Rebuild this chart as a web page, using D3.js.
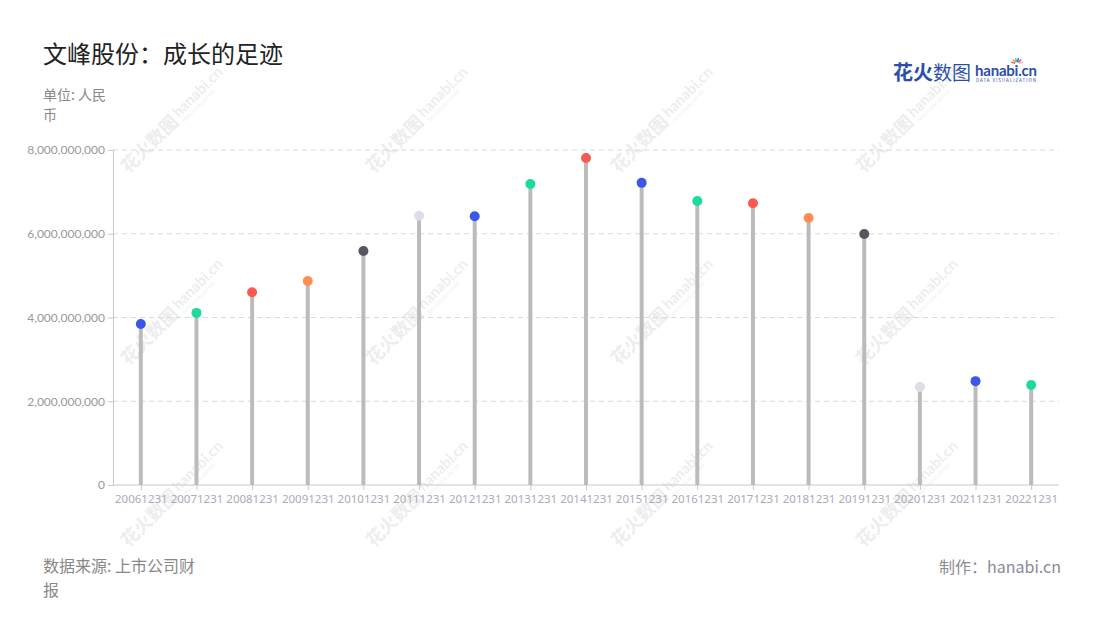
<!DOCTYPE html>
<html><head><meta charset="utf-8">
<script src="https://cdn.jsdelivr.net/npm/d3@7"></script>
<style>
body{margin:0;background:#fff;}
svg{font-family:"Noto Sans CJK SC","Noto Sans",sans-serif;}
</style></head>
<body><svg id="c" width="1100" height="620"></svg>
<script>
const categories = ["20061231","20071231","20081231","20091231","20101231","20111231","20121231","20131231","20141231","20151231","20161231","20171231","20181231","20191231","20201231","20211231","20221231"];
const values = [3.845e9,4.11e9,4.605e9,4.87e9,5.59e9,6.43e9,6.42e9,7.19e9,7.81e9,7.215e9,6.78e9,6.73e9,6.375e9,5.995e9,2.34e9,2.48e9,2.39e9];
const dotColors = ["#3a57e8","#1bdc9c","#f85a50","#ff8d54","#56565f","#dcdfe8","#3a57e8","#1bdc9c","#f85a50","#3a57e8","#1bdc9c","#f85a50","#ff8d54","#56565f","#dcdfe8","#3a57e8","#1bdc9c"];
const yTicks = [0,2e9,4e9,6e9,8e9];

const svg = d3.select("#c");
const M = {l:113, r:1059, t:150, b:485};
const x = d3.scalePoint().domain(categories).range([M.l, M.r]).padding(0.5);
const y = d3.scaleLinear().domain([0, 8e9]).range([M.b, M.t]);

// watermarks (behind)
const wmX = [178, 423, 668, 913], wmY = [116, 308, 490];
wmX.forEach(wx => wmY.forEach(wy => {
  const g = svg.append("g").attr("transform", `translate(${wx},${wy}) rotate(-45)`).attr("opacity", 0.09);
  g.append("text").attr("x", -4).attr("y", 6).attr("text-anchor", "end")
    .attr("font-size", 18).attr("font-weight", "bold").attr("fill", "#444").text("花火数图");
  g.append("text").attr("x", -1).attr("y", 2).attr("font-size", 15).attr("font-weight", "bold")
    .style("font-family", "Lato, sans-serif").attr("fill", "#444").text("hanabi.cn");
  g.append("text").attr("x", 0).attr("y", 9).attr("font-size", 4.5).attr("fill", "#444").text("DATA VISUALIZATION");
}));

// grid
svg.append("g").selectAll("line").data(yTicks.filter(d=>d>0)).join("line")
  .attr("x1", M.l).attr("x2", M.r).attr("y1", d=>y(d)).attr("y2", d=>y(d))
  .attr("stroke", "#d9d9d9").attr("stroke-dasharray", "5,4");

// y axis
const ya = svg.append("g").attr("transform", `translate(${M.l},0)`)
  .call(d3.axisLeft(y).tickValues(yTicks).tickSize(5).tickPadding(3).tickFormat(d3.format(",")));
ya.select(".domain").attr("stroke", "#c8c8c8");
ya.selectAll(".tick line").attr("stroke", "#c8c8c8");
ya.selectAll("text").attr("fill", "#999").style("font-family", "Lato, 'Noto Sans', sans-serif").style("font-size", "12px");

// x axis
const xa = svg.append("g").attr("transform", `translate(0,${M.b})`)
  .call(d3.axisBottom(x).tickSize(5).tickPadding(5));
xa.select(".domain").attr("stroke", "#c8c8c8").attr("d", `M${M.l},0H${M.r}`);
xa.selectAll(".tick line").attr("stroke", "#c8c8c8");
xa.selectAll("text").attr("fill", "#a9abb8").style("font-family", "'Noto Sans', sans-serif").style("font-size", "11.5px");

// stems
svg.append("g").selectAll("line").data(categories).join("line")
  .attr("x1", d=>x(d)).attr("x2", d=>x(d))
  .attr("y1", y(0)).attr("y2", (d,i)=>y(values[i]))
  .attr("stroke", "#bbbbbb").attr("stroke-width", 4);

// dots
svg.append("g").selectAll("circle").data(categories).join("circle")
  .attr("cx", d=>x(d)).attr("cy", (d,i)=>y(values[i])).attr("r", 5)
  .attr("fill", (d,i)=>dotColors[i]);

// title & labels
svg.append("text").attr("x", 43).attr("y", 63).attr("font-size", 24).attr("fill", "#222").text("文峰股份：成长的足迹");
svg.append("text").attr("x", 43).attr("y", 100).attr("font-size", 14).attr("fill", "#888").text("单位: 人民");
svg.append("text").attr("x", 43).attr("y", 120).attr("font-size", 14).attr("fill", "#888").text("币");
svg.append("text").attr("x", 43).attr("y", 572).attr("font-size", 16).attr("fill", "#888").text("数据来源: 上市公司财");
svg.append("text").attr("x", 43).attr("y", 596).attr("font-size", 16).attr("fill", "#888").text("报");
svg.append("text").attr("x", 1061).attr("y", 573).attr("text-anchor", "end").attr("font-size", 16).attr("fill", "#8a8a96").text("制作：hanabi.cn");

// logo
svg.append("text").attr("x", 893).attr("y", 80).attr("font-size", 20).attr("font-weight", "bold").attr("fill", "#2b4fa8").text("花火");
svg.append("text").attr("x", 933).attr("y", 80).attr("font-size", 19).attr("fill", "#2b4fa8").text("数图");
svg.append("text").attr("x", 975).attr("y", 76).attr("font-size", 15).attr("font-weight", "bold").style("font-family", "Lato, sans-serif").attr("fill", "#2b4fa8").attr("textLength", 62).text("hanabi.cn");
svg.append("text").attr("x", 976).attr("y", 82).attr("font-size", 4.5).attr("fill", "#2b4fa8").attr("textLength", 60).text("DATA VISUALIZATION");
const sparkC = ["#f85a50","#ff8d54","#1bdc9c","#3a57e8","#c05ae0","#f5c542"];
sparkC.forEach((c,i)=>{
  const a = -Math.PI*0.9 + i*Math.PI*0.16;
  svg.append("line").attr("x1", 1017+Math.cos(a)*2).attr("y1", 64+Math.sin(a)*2)
    .attr("x2", 1017+Math.cos(a)*6).attr("y2", 64+Math.sin(a)*6).attr("stroke", c).attr("stroke-width", 1.5);
});
</script></body></html>
